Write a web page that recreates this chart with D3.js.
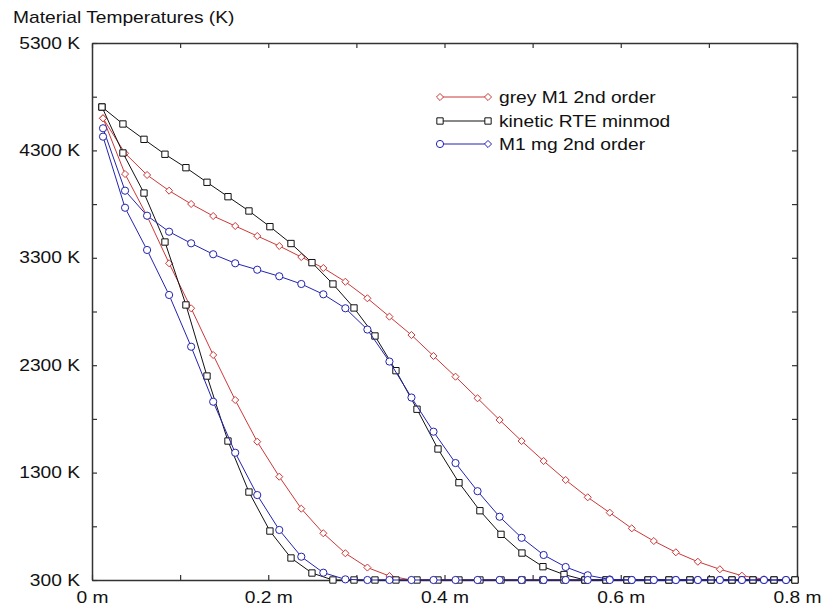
<!DOCTYPE html>
<html>
<head>
<title>Material Temperatures</title>
<script src="https://d3js.org/d3.v7.min.js"></script>
<style>
  body { margin: 0; background: #fff; }
  text { font-family: "Liberation Sans", Arial, sans-serif; font-size: 16px; fill: #111; }
</style>
</head>
<body>
<svg width="822" height="611"></svg>
<script>
// grid of the M1 runs (red, blue) and of the kinetic run (black), in m
var xM1 = [0.0125,0.0375,0.0625,0.0875,0.1125,0.1375,0.1625,0.1875,0.2125,0.2375,0.2625,0.2875,0.3125,0.3375,0.3625,0.3875,
           0.4125,0.4375,0.4625,0.4875,0.5125,0.5375,0.5625,0.5875,0.6125,0.6375,0.6625,0.6875,0.7125,0.7375,0.7625,0.7875]
var xKin = [0.0113,0.0351,0.0590,0.0828,0.1066,0.1305,0.1543,0.1781,0.2019,0.2258,0.2496,0.2734,0.2973,0.3211,0.3449,0.3688,0.3926,
            0.4164,0.4402,0.4641,0.4879,0.5117,0.5356,0.5594,0.5832,0.6071,0.6309,0.6547,0.6785,0.7024,0.7262,0.7500,0.7739,0.7977]

// temperatures in K, two snapshots per model
var greyEarly = [4599,4080,3689,3249,2830,2395,1976,1588,1262,964,735,549,416,337,300,300,
                 300,300,300,300,300,300,300,300,300,300,300,300,300,300,300,300]
var greyLate = [4599,4273,4071,3925,3801,3689,3596,3503,3410,3307,3205,3077,2923,2752,2581,2386,
                2193,1992,1790,1594,1408,1231,1070,927,781,663,558,470,400,340,307,300]
var kinEarly = [4704,4276,3903,3447,2861,2199,1594,1119,756,505,365,300,300,300,300,300,300,
                300,300,300,300,300,300,300,300,300,300,300,300,300,300,300,300,300]
var kinLate = [4704,4546,4403,4264,4139,4003,3869,3736,3590,3433,3255,3056,2833,2572,2249,1890,1520,
               1206,945,725,551,424,351,300,300,300,300,300,300,300,300,300,300,300]
var mgEarly = [4428,3766,3373,2954,2472,1960,1485,1091,766,517,368,306,300,300,300,300,
               300,300,300,300,300,300,300,300,300,300,300,300,300,300,300,300]
var mgLate = [4506,3925,3692,3543,3435,3333,3249,3189,3128,3056,2960,2830,2632,2334,1999,1681,
              1389,1127,889,693,533,421,344,305,300,300,300,300,300,300,300,300]

var seriesNames = ["grey M1 2nd order", "kinetic RTE minmod", "M1 mg 2nd order"]
var yTicks = [300,800,1300,1800,2300,2800,3300,3800,4300,4800,5300]
var xTicks = [0,0.1,0.2,0.3,0.4,0.5,0.6,0.7,0.8]
var xTickLabels = ["0 m","0.2 m","0.4 m","0.6 m","0.8 m"]

var stretch = 1.2  // the original lettering is wider than Arial

var svg = d3.select("svg")
var plotLeft = 92, plotTop = 43, plotRight = 797, plotBottom = 580

var x = d3.scaleLinear().domain([0, 0.8]).range([plotLeft, plotRight])
var y = d3.scaleLinear().domain([300, 5300]).range([plotBottom, plotTop])

svg.append("rect").attr("width", 822).attr("height", 611).attr("fill", "#fff")

// title
svg.append("text")
  .attr("transform", "translate(13,23) scale(" + stretch + ",1)")
  .text("Material Temperatures (K)")

// axes, ticks pointing inward on all four sides
function styleAxis(g) {
  g.select(".domain").attr("stroke", "#333").attr("stroke-width", 1.5)
  g.selectAll(".tick line").attr("stroke", "#333").attr("stroke-width", 1.2)
  g.selectAll("text").attr("font-size", null).attr("font-family", null).attr("fill", "#111")
}

var gLeft = svg.append("g")
  .attr("transform", "translate(" + plotLeft + ",0)")
  .call(d3.axisLeft(y).tickValues(yTicks).tickSize(-5).tickSizeOuter(0).tickPadding(12)
    .tickFormat(function(d) { return (d - 300) % 1000 == 0 ? d + " K" : "" }))
gLeft.call(styleAxis)
gLeft.selectAll("text")
  .attr("x", -12 / stretch)
  .attr("transform", "scale(" + stretch + ",1)")

var gBottom = svg.append("g")
  .attr("transform", "translate(0," + plotBottom + ")")
  .call(d3.axisBottom(x).tickValues(xTicks).tickSize(-5).tickSizeOuter(0).tickPadding(12)
    .tickFormat(function(d, i) { return i % 2 == 0 ? xTickLabels[i / 2] : "" }))
gBottom.call(styleAxis)
gBottom.selectAll("text").attr("transform", "scale(" + stretch + ",1)")

svg.append("g")
  .attr("transform", "translate(" + plotRight + ",0)")
  .call(d3.axisRight(y).tickValues(yTicks).tickSize(-5).tickSizeOuter(0).tickFormat(""))
  .call(styleAxis)

svg.append("g")
  .attr("transform", "translate(0," + plotTop + ")")
  .call(d3.axisTop(x).tickValues(xTicks).tickSize(-5).tickSizeOuter(0).tickFormat(""))
  .call(styleAxis)

// markers
var red = "#cc3838", black = "#111", blue = "#2323b0"

function marker(g, kind, color) {
  if (kind == "circle") {
    return g.append("circle").attr("r", 3.6)
      .attr("fill", "#fff").attr("stroke", color).attr("stroke-width", 1)
  }
  var type = kind == "square" ? d3.symbolSquare : d3.symbolDiamond2
  var size = kind == "square" ? 40 : 32
  return g.append("path").attr("d", d3.symbol().type(type).size(size))
    .attr("fill", "#fff").attr("stroke", color).attr("stroke-width", 1)
}

var line = d3.line()
  .x(function(d) { return x(d[0]) })
  .y(function(d) { return y(d[1]) })

function drawCurve(xs, ys, color, kind) {
  var pts = d3.zip(xs, ys)
  var g = svg.append("g")
  g.append("path").datum(pts)
    .attr("d", line)
    .attr("fill", "none")
    .attr("stroke", color)
    .attr("stroke-width", 1)
  g.selectAll(".pt").data(pts).enter().append("g")
    .attr("class", "pt")
    .attr("transform", function(d) { return "translate(" + x(d[0]) + "," + y(d[1]) + ")" })
    .each(function() { marker(d3.select(this), kind, color) })
}

drawCurve(xM1, greyLate, red, "diamond")
drawCurve(xM1, greyEarly, red, "diamond")
drawCurve(xKin, kinLate, black, "square")
drawCurve(xKin, kinEarly, black, "square")
drawCurve(xM1, mgLate, blue, "circle")
drawCurve(xM1, mgEarly, blue, "circle")

// legend
var legendY = [97, 121, 144]
var legendColor = [red, black, blue]
var legendKinds = [["diamond","diamond"], ["square","square"], ["circle","diamond"]]

seriesNames.forEach(function(name, i) {
  var g = svg.append("g").attr("transform", "translate(0," + legendY[i] + ")")
  g.append("line").attr("x1", 440).attr("x2", 488)
    .attr("stroke", legendColor[i]).attr("stroke-width", 1)
  marker(g.append("g").attr("transform", "translate(440,0)"), legendKinds[i][0], legendColor[i])
  marker(g.append("g").attr("transform", "translate(488,0)"), legendKinds[i][1], legendColor[i])
  g.append("text")
    .attr("transform", "translate(499,0) scale(" + stretch + ",1)")
    .attr("dy", "0.35em")
    .text(name)
})
</script>
</body>
</html>
